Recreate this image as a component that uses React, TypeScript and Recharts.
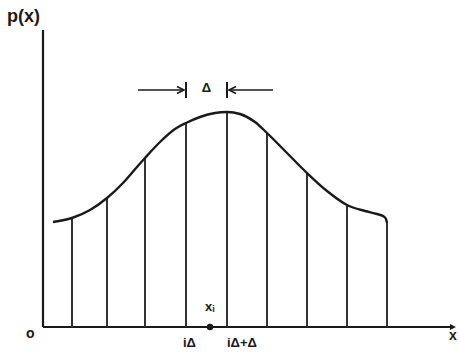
import React from 'react';
import { LineChart, Line, XAxis, YAxis, ReferenceLine, ReferenceDot } from 'recharts';

// density curve (x offset from origin, p(x) height)
const curveX = [10, 29, 47, 64, 80, 94, 102, 117, 132, 143, 157, 172, 184, 197, 212, 224, 244, 264, 284, 304, 322, 334, 340, 343, 344];
const curveY = [105, 109, 117, 129, 144, 160, 169, 185, 198, 204, 210, 214, 215, 213, 205, 194, 174, 154, 136, 122, 116, 113, 111, 108, 104];

// vertical strip lines (positions and heights)
const stripX = [29, 64, 102, 143, 184, 224, 264, 304, 344];
const stripTop = [109, 129, 169, 204, 215, 194, 154, 122, 104];

// interval i*Δ .. i*Δ+Δ and the sample point x_i
const deltaStart = 143;
const deltaEnd = 184;
const xiPos = 167;
const deltaY = 237;

const xMax = 409;
const yMax = 300;

const data = curveX.map((x, i) => ({ x, p: curveY[i] }));

const FONT = '"Liberation Sans", Arial, sans-serif';
const INK = '#1a1a1a';

const Txt = (txt: string, size: number, anchor: 'start' | 'middle' | 'end' = 'start') => (props: any) => (
  <text x={props.cx} y={props.cy} fontFamily={FONT} fontWeight="bold" fontSize={size} fill={INK} textAnchor={anchor}>
    {txt}
  </text>
);

const XiLabel = (props: any) => (
  <text x={props.cx} y={props.cy} fontFamily={FONT} fontWeight="bold" fontSize={13} fill={INK}>
    <tspan>x</tspan>
    <tspan fontSize={9} dy={1}>i</tspan>
  </text>
);

const Dot = (props: any) => <circle cx={props.cx} cy={props.cy} r={3.2} fill={INK} />;

const ArrowRight = (props: any) => (
  <path d={`M${props.cx - 6},${props.cy - 3.5} L${props.cx + 1},${props.cy} L${props.cx - 6},${props.cy + 3.5}`} fill="none" stroke={INK} strokeWidth={1.6} />
);
const ArrowLeft = (props: any) => (
  <path d={`M${props.cx + 6},${props.cy - 3.5} L${props.cx - 1},${props.cy} L${props.cx + 6},${props.cy + 3.5}`} fill="none" stroke={INK} strokeWidth={1.6} />
);
const AxisHead = (props: any) => (
  <path d={`M${props.cx - 2},${props.cy - 3} L${props.cx + 4},${props.cy} L${props.cx - 2},${props.cy + 3} Z`} fill={INK} />
);

export default function App() {
  return (
    <div style={{ position: 'absolute', left: 0, top: 0, width: 459, height: 358, background: '#fff' }}>
      <LineChart
        width={459}
        height={358}
        data={data}
        margin={{ top: 27, right: 7, bottom: 31, left: 43 }}
      >
        <XAxis type="number" dataKey="x" domain={[0, xMax]} hide />
        <YAxis type="number" domain={[0, yMax]} hide />
        {/* axes */}
        <ReferenceLine segment={[{ x: 0, y: 0 }, { x: xMax, y: 0 }]} stroke={INK} strokeWidth={2.2} ifOverflow="visible" />
        <ReferenceLine segment={[{ x: 0, y: 0 }, { x: 0, y: yMax - 3 }]} stroke={INK} strokeWidth={2.2} ifOverflow="visible" />
        {stripX.map((x, i) => (
          <ReferenceLine
            key={i}
            segment={[{ x, y: 0 }, { x, y: stripTop[i] }]}
            stroke="#333"
            strokeWidth={2}
            ifOverflow="visible"
          />
        ))}
        <Line
          type="monotone"
          dataKey="p"
          stroke={INK}
          strokeWidth={2.4}
          dot={false}
          isAnimationActive={false}
        />
        {/* Δ interval annotation */}
        <ReferenceLine segment={[{ x: deltaStart - 48, y: deltaY }, { x: deltaStart - 3, y: deltaY }]} stroke={INK} strokeWidth={1.6} ifOverflow="visible" />
        <ReferenceLine segment={[{ x: deltaStart, y: deltaY - 8 }, { x: deltaStart, y: deltaY + 8 }]} stroke={INK} strokeWidth={2} ifOverflow="visible" />
        <ReferenceLine segment={[{ x: deltaEnd, y: deltaY - 8 }, { x: deltaEnd, y: deltaY + 8 }]} stroke={INK} strokeWidth={2} ifOverflow="visible" />
        <ReferenceLine segment={[{ x: deltaEnd + 3, y: deltaY }, { x: deltaEnd + 46, y: deltaY }]} stroke={INK} strokeWidth={1.6} ifOverflow="visible" />
        <ReferenceDot x={deltaStart - 3} y={deltaY} r={0} ifOverflow="visible" shape={ArrowRight} />
        <ReferenceDot x={deltaEnd + 3} y={deltaY} r={0} ifOverflow="visible" shape={ArrowLeft} />
        <ReferenceDot x={(deltaStart + deltaEnd) / 2} y={deltaY - 2} r={0} ifOverflow="visible" shape={Txt('Δ', 13, 'middle')} />
        {/* axis arrow */}
        <ReferenceDot x={xMax} y={0} r={0} ifOverflow="visible" shape={AxisHead} />
        {/* sample point x_i */}
        <ReferenceDot x={xiPos} y={0} r={0} ifOverflow="visible" shape={Dot} />
        <ReferenceDot x={xiPos - 5} y={16} r={0} ifOverflow="visible" shape={XiLabel} />
        {/* labels */}
        <ReferenceDot x={deltaStart - 3} y={-20} r={0} ifOverflow="visible" shape={Txt('iΔ', 13)} />
        <ReferenceDot x={deltaEnd} y={-20} r={0} ifOverflow="visible" shape={Txt('iΔ+Δ', 13)} />
        <ReferenceDot x={-17} y={-11} r={0} ifOverflow="visible" shape={Txt('o', 14)} />
        <ReferenceDot x={406} y={-13} r={0} ifOverflow="visible" shape={Txt('x', 14)} />
        <ReferenceDot x={-36} y={305} r={0} ifOverflow="visible" shape={Txt('p(x)', 18)} />
      </LineChart>
    </div>
  );
}
